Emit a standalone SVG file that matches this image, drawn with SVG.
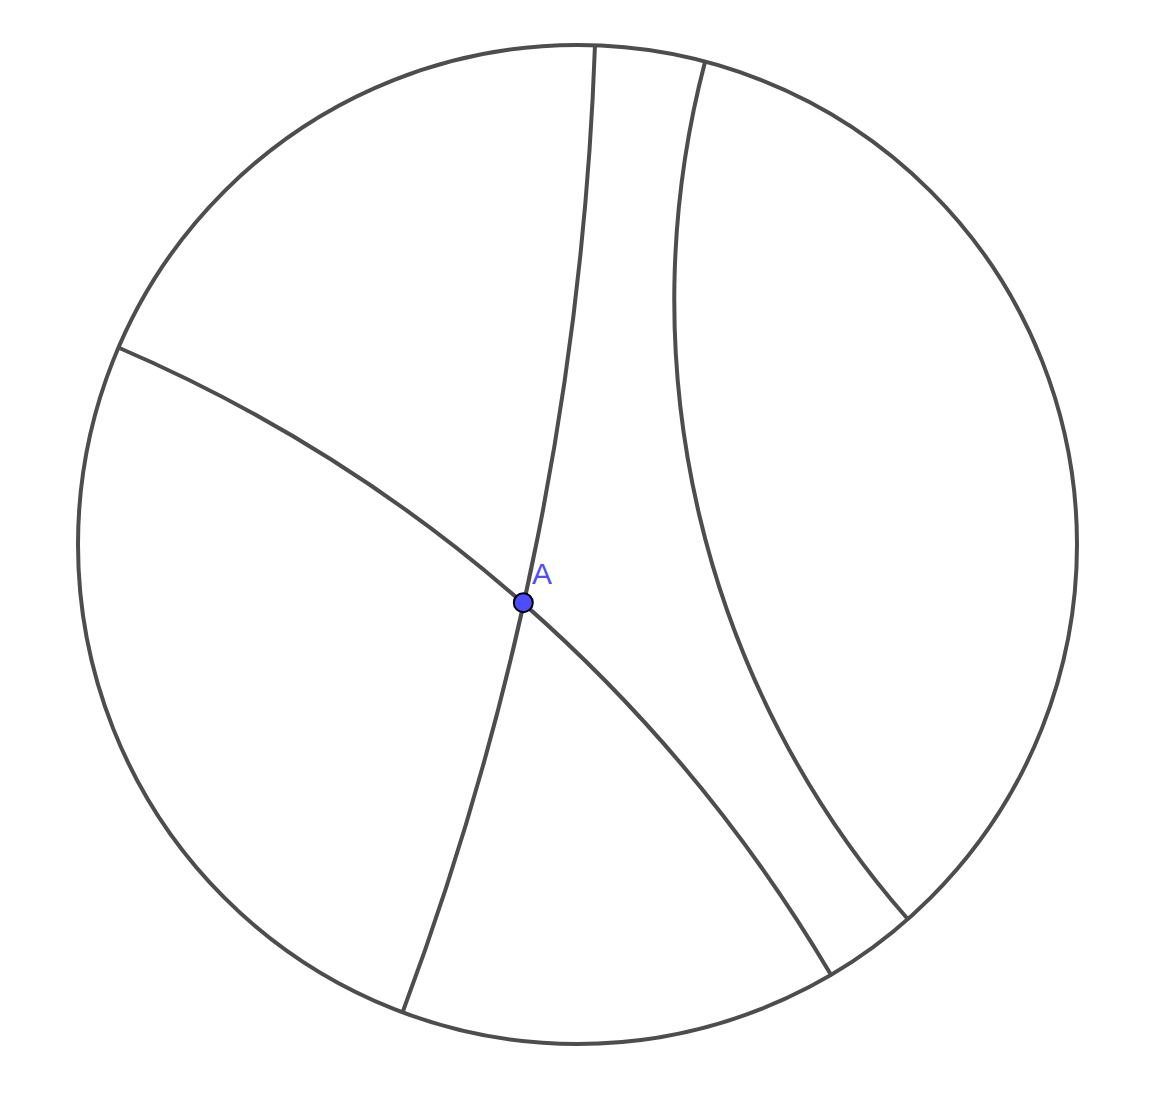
<svg xmlns="http://www.w3.org/2000/svg" width="1154" height="1106" viewBox="0 0 1154 1106">
<style>
.ln{fill:none;stroke:#4d4d4d;stroke-width:4;stroke-linejoin:round}
.lbl{font-family:"Liberation Sans",Arial,sans-serif;font-size:30px;fill:#4d4dff}
</style>
<rect width="1154" height="1106" fill="#ffffff"/>
<g id="disk"><circle class="ln" cx="577.5" cy="544.5" r="499.5"/></g>
<g id="connectors">
<path class="ln" d="M595,45 A3073,3073 0 0 1 402.7,1012"/>
<path class="ln" d="M118.3,347.5 A1529,1529 0 0 1 830.5,974"/>
<path class="ln" d="M705,62 A937.3,937.3 0 0 0 907.3,918.5"/>
</g>
<g id="pointA">
<circle cx="523.3" cy="602.7" r="9.5" fill="#4d4dff" stroke="#000" stroke-width="2"/>
<text class="lbl" x="532" y="584">A</text>
</g>
</svg>
